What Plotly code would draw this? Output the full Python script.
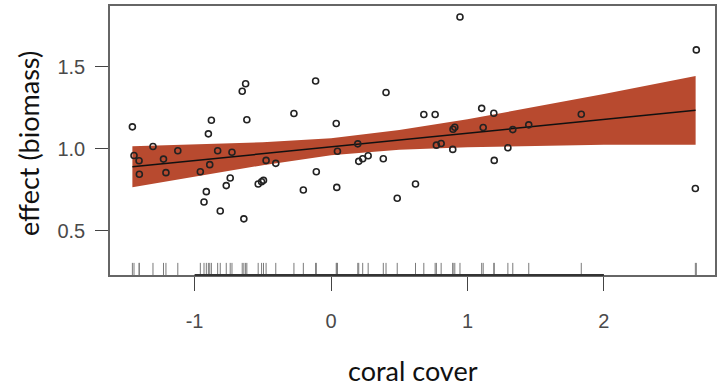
import plotly.graph_objects as go

# Observations: standardised coral cover vs. partial effect on biomass
coral_cover = [
    -1.456, -1.444, -1.407, -1.405, -1.305, -1.228, -1.210, -1.123, -0.958, -0.931,
    -0.914, -0.899, -0.889, -0.877, -0.831, -0.812, -0.768, -0.739, -0.726, -0.651,
    -0.626, -0.639, -0.617, -0.534, -0.509, -0.495, -0.476, -0.405, -0.272, -0.203,
    -0.113, -0.108, 0.038, 0.042, 0.047, 0.196, 0.203, 0.232, 0.272, 0.383,
    0.403, 0.485, 0.619, 0.680, 0.763, 0.772, 0.807, 0.892, 0.894, 0.907,
    0.945, 1.104, 1.115, 1.193, 1.196, 1.296, 1.332, 1.449, 1.834, 2.677, 2.670,
]
effect = [
    1.134, 0.959, 0.927, 0.844, 1.014, 0.937, 0.854, 0.988, 0.860, 0.675,
    0.738, 1.091, 0.903, 1.174, 0.988, 0.620, 0.775, 0.821, 0.979, 1.351,
    1.397, 0.572, 1.177, 0.785, 0.799, 0.807, 0.929, 0.911, 1.215, 0.748,
    1.414, 0.860, 1.154, 0.764, 0.985, 1.030, 0.923, 0.939, 0.957, 0.939,
    1.344, 0.698, 0.785, 1.209, 1.209, 1.022, 1.032, 0.996, 1.119, 1.131,
    1.805, 1.247, 1.130, 1.217, 0.929, 1.006, 1.117, 1.146, 1.211, 1.604, 0.757,
]

# Fitted line with its confidence band
fit_x = [-1.456, -1.0, -0.5, 0.0, 0.5, 1.0, 1.5, 2.0, 2.672]
fit_y = [0.890, 0.928, 0.970, 1.012, 1.054, 1.095, 1.137, 1.179, 1.235]
band_hi = [1.015, 1.026, 1.040, 1.064, 1.114, 1.180, 1.257, 1.334, 1.445]
band_lo = [0.765, 0.830, 0.900, 0.960, 0.994, 1.010, 1.017, 1.024, 1.025]

x_ticks = [-1, 0, 1, 2]
y_ticks = [0.5, 1.0, 1.5]
x_range = [-1.620, 2.814]
y_range = [0.229, 1.872]

BAND = "#b84a2f"
TICK_FONT = dict(family="Liberation Sans, Arial, sans-serif", size=20, color="#4a4a4a")
TITLE_FONT = dict(family="Lato, Open Sans, sans-serif", size=27, color="#111111")

fig = go.Figure()

# confidence band
fig.add_trace(go.Scatter(
    x=fit_x + fit_x[::-1], y=band_hi + band_lo[::-1],
    fill="toself", fillcolor=BAND, mode="lines",
    line=dict(width=0, color=BAND), hoverinfo="skip", showlegend=False,
))
# fitted line
fig.add_trace(go.Scatter(
    x=fit_x, y=fit_y, mode="lines",
    line=dict(color="#111111", width=1.5), showlegend=False,
))
# partial residuals
fig.add_trace(go.Scatter(
    x=coral_cover, y=effect, mode="markers",
    marker=dict(symbol="circle-open", size=6, color="#222222",
                line=dict(width=1.6, color="#222222")),
    showlegend=False,
))
# rug along the bottom of the panel
fig.add_trace(go.Scatter(
    x=coral_cover, y=[0.019] * len(coral_cover), yaxis="y2", mode="markers",
    marker=dict(symbol="line-ns", size=10, line=dict(width=1, color="#7a7a7a")),
    showlegend=False, hoverinfo="skip",
))

fig.update_layout(
    width=719, height=390,
    margin=dict(l=109.5, r=2, t=6, b=114.5),
    plot_bgcolor="white", paper_bgcolor="white",
    xaxis=dict(
        range=x_range, tickvals=x_ticks, ticktext=[str(v) for v in x_ticks],
        showgrid=False, zeroline=False,
        showline=True, mirror=True, linecolor="#666666", linewidth=1.5,
        ticks="outside", ticklen=14, tickwidth=1.3, tickcolor="#444444",
        tickfont=TICK_FONT, ticklabelstandoff=13,
    ),
    yaxis=dict(
        range=y_range, tickvals=y_ticks, ticktext=["0.5", "1.0", "1.5"],
        showgrid=False, zeroline=False,
        showline=True, mirror=True, linecolor="#666666", linewidth=1.5,
        ticks="outside", ticklen=13, tickwidth=1.3, tickcolor="#444444",
        tickfont=TICK_FONT, ticklabelstandoff=6,
    ),
    yaxis2=dict(range=[0, 1], overlaying="y", visible=False, fixedrange=True),
    annotations=[
        dict(text="coral cover", xref="paper", yref="paper", x=0.5, y=0,
             xanchor="center", yanchor="middle", yshift=-95, showarrow=False,
             font=TITLE_FONT),
        dict(text="effect (biomass)", xref="paper", yref="paper", x=0, y=0.5,
             xanchor="center", yanchor="middle", xshift=-81.5, yshift=-3,
             textangle=-90, showarrow=False, font=TITLE_FONT),
    ],
    shapes=[
        # axis segment spanning the labelled ticks
        dict(type="line", xref="x", yref="y domain",
             x0=min(x_ticks), x1=max(x_ticks), y0=0, y1=0,
             line=dict(color="#333333", width=2)),
    ],
)

fig.write_html("out.html")
